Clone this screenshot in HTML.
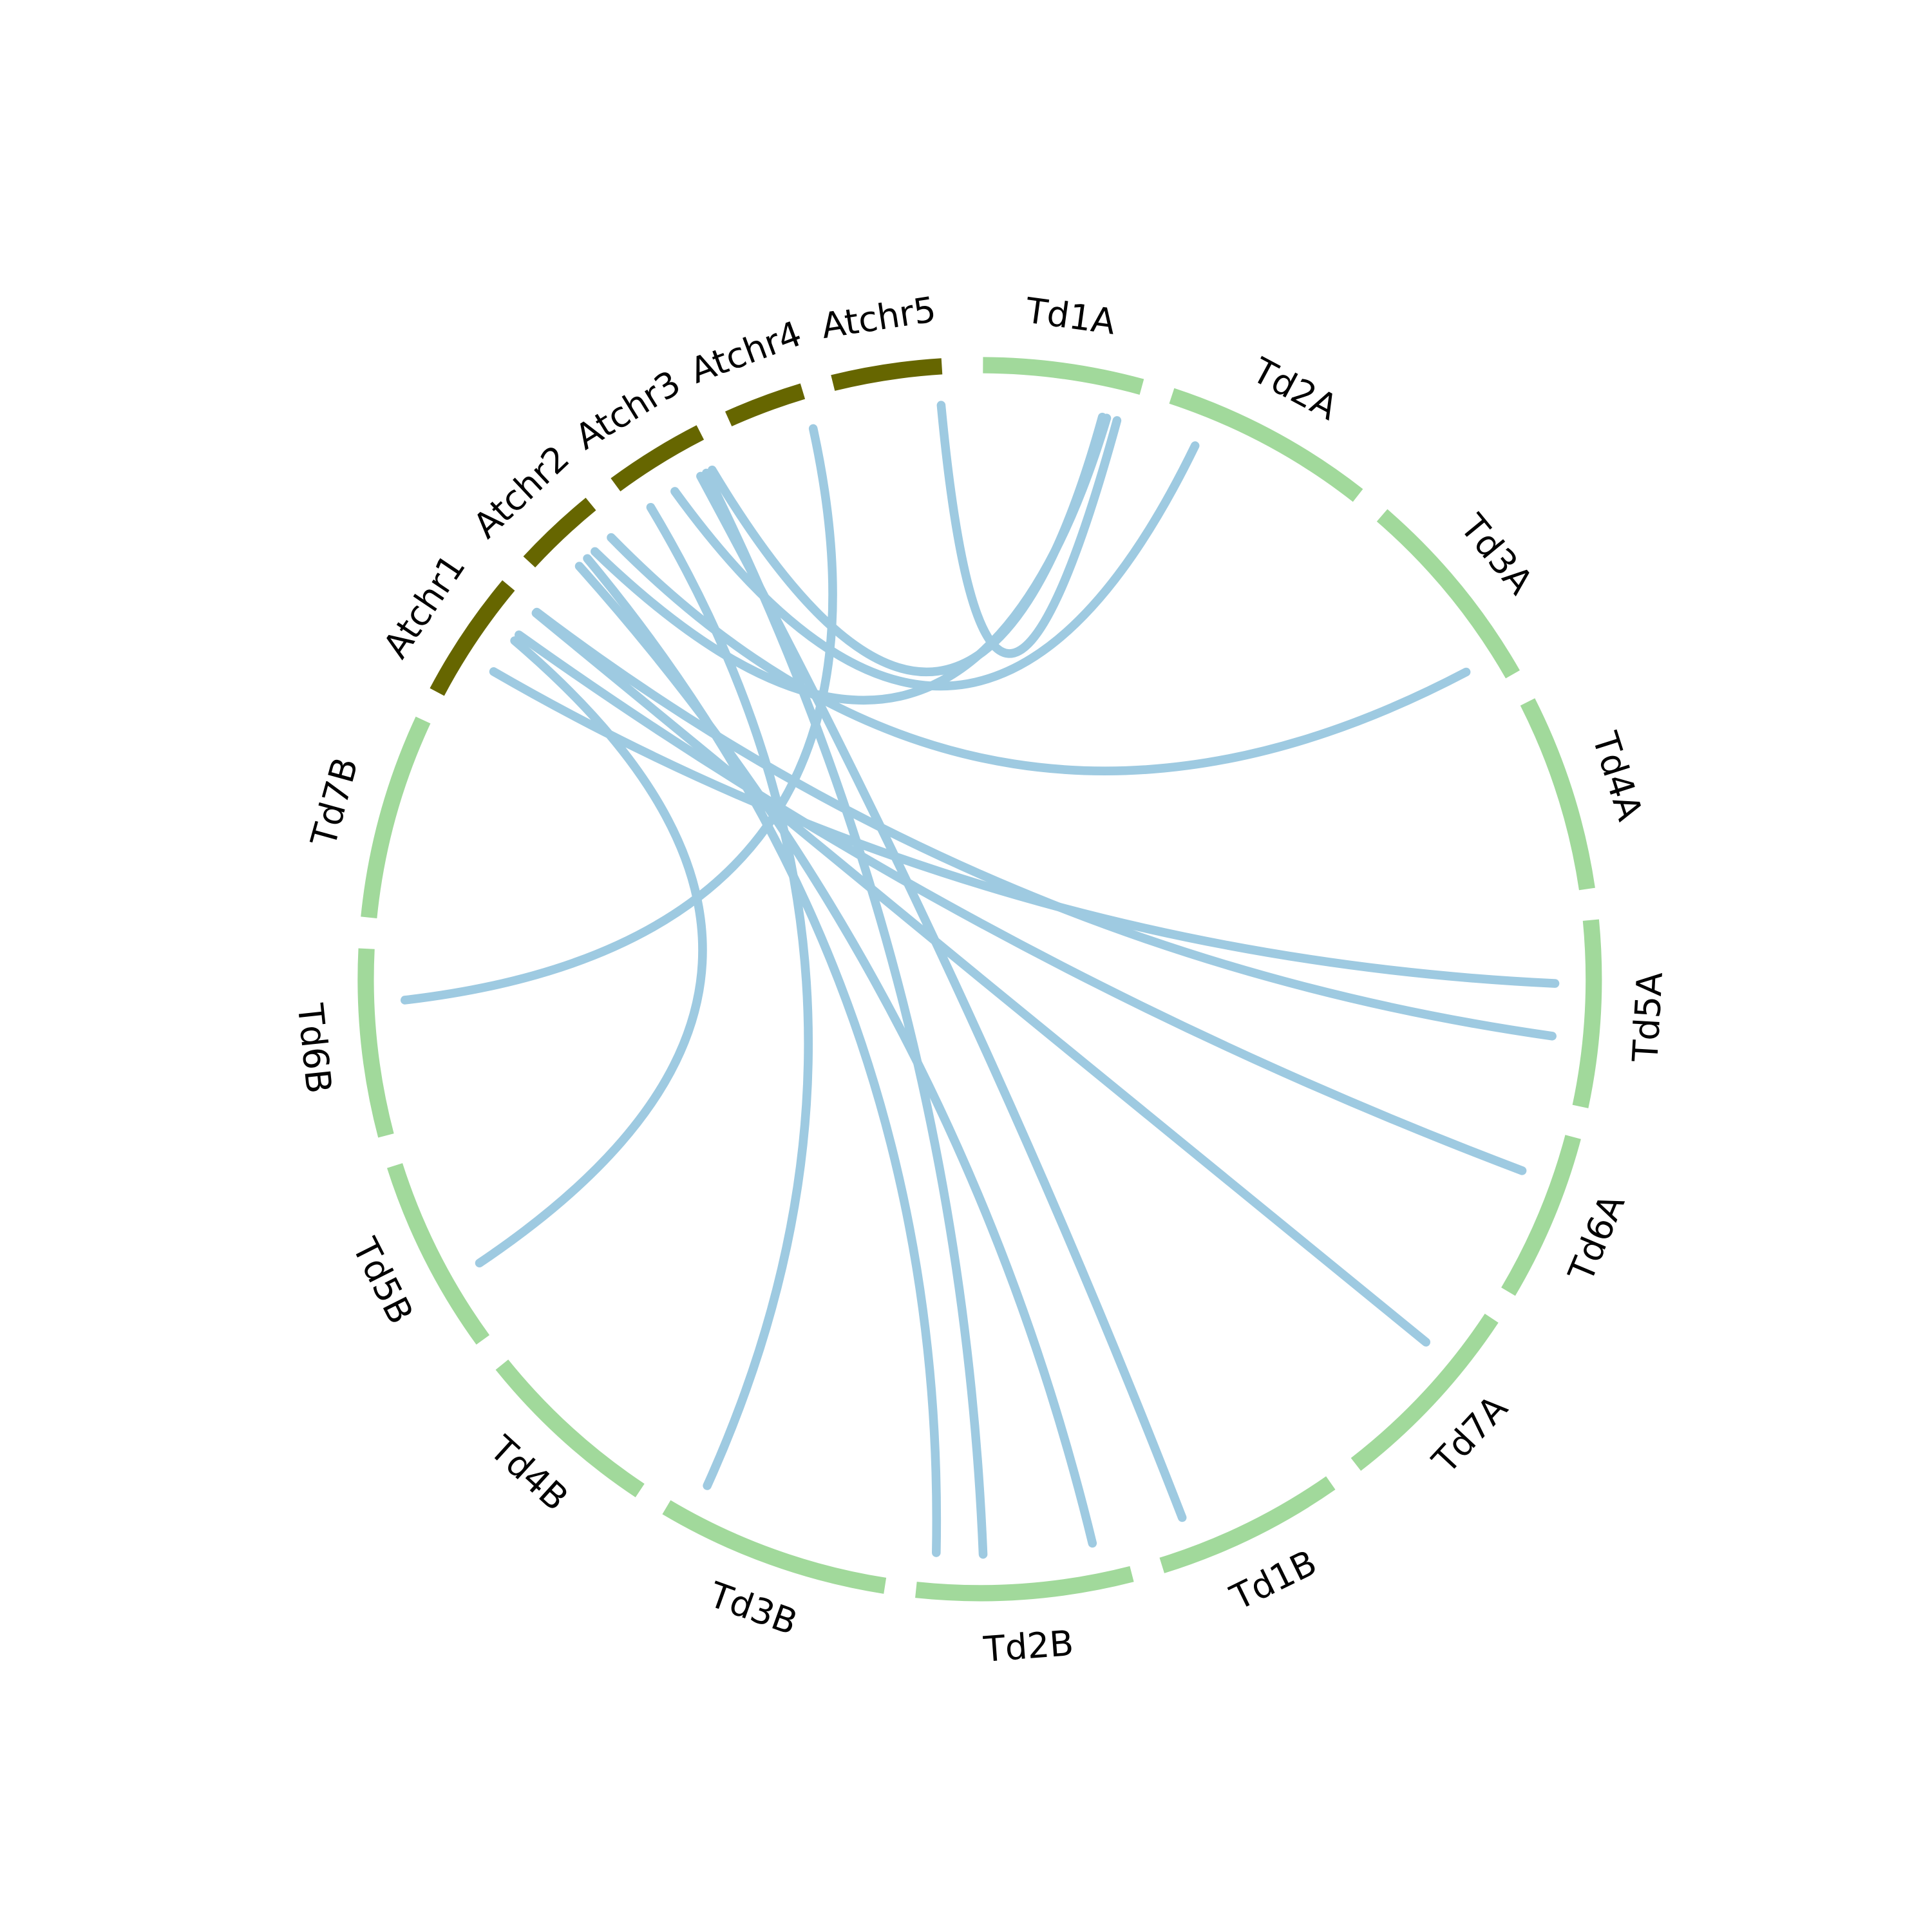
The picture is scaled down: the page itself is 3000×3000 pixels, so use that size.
<!DOCTYPE html>
<html><head><meta charset="utf-8"><style>
html,body{margin:0;padding:0;background:#fff;}
svg{display:block;}
text{font-family:"DejaVu Sans","Liberation Sans",sans-serif;font-size:28px;fill:#000;}
</style></head><body>
<svg id="chart" width="3000" height="3000" viewBox="0 0 1545 1545" xmlns="http://www.w3.org/2000/svg">
<g id="chords"></g>
<g id="ring"></g>
<g id="labels"></g>
</svg>
<script>
// chromosome names and sizes (span in degrees)
const chrNames = ["Td1A","Td2A","Td3A","Td4A","Td5A","Td6A","Td7A","Td1B","Td2B","Td3B","Td4B","Td5B","Td6B","Td7B","Atchr1","Atchr2","Atchr3","Atchr4","Atchr5"];
const chrSizes = [15,19.8,19.3,18.4,17.5,15.7,18.7,17.6,20.3,21.8,17.5,18.3,17.6,19.2,12,7.9,9.3,7.4,10.3];
const chrGroup = ["Td","Td","Td","Td","Td","Td","Td","Td","Td","Td","Td","Td","Td","Td","At","At","At","At","At"];
// links: source chromosome/fraction -> target chromosome/fraction
const linkSrc = ["Atchr5","Atchr3","Atchr2","Atchr3","Atchr2","Atchr4","Atchr3","Atchr1","Atchr1","Atchr1","Atchr1","Atchr1","Atchr2","Atchr3","Atchr3","Atchr2"];
const linkSrcPos = [0.97,0.93,0.66,0.47,0.93,0.99,0.16,0.68,0.74,0.97,0.98,0.37,0.39,0.86,0.79,0.53];
const linkTgt = ["Td1A","Td1A","Td1A","Td2A","Td3A","Td6B","Td3B","Td5B","Td6A","Td7A","Td5A","Td5A","Td2B","Td2B","Td1B","Td2B"];
const linkTgtPos = [0.9,0.8,0.83,0.19,0.87,0.72,0.89,0.35,0.29,0.3,0.64,0.34,0.15,0.69,0.81,0.92];

const NS="http://www.w3.org/2000/svg";
const cx=783.5, cy=783, R=491, Rc=460, Rl=535, gap=2.92, start0=0.3;
const starts=[]; let a=start0;
for(let i=0;i<chrSizes.length;i++){starts.push(a); a+=chrSizes[i]+gap;}
function pt(deg,r){const t=deg*Math.PI/180;return [cx+r*Math.sin(t), cy-r*Math.cos(t)];}
function angOf(name,f){const i=chrNames.indexOf(name);return starts[i]+f*chrSizes[i];}

const ring=document.getElementById('ring');
const labels=document.getElementById('labels');
chrNames.forEach((n,i)=>{
  const a0=starts[i], a1=starts[i]+chrSizes[i];
  const p0=pt(a0,R), p1=pt(a1,R);
  const p=document.createElementNS(NS,'path');
  p.setAttribute('d',`M${p0[0]},${p0[1]} A${R},${R} 0 0 1 ${p1[0]},${p1[1]}`);
  p.setAttribute('fill','none');
  p.setAttribute('stroke',chrGroup[i]==="At"?"#666600":"#a1d99b");
  p.setAttribute('stroke-width','13');
  
  
  ring.appendChild(p);
  const m=(a0+a1)/2, lp=pt(m,Rl);
  let rot=m; if(m>90&&m<270) rot=m-180;
  const t=document.createElementNS(NS,'text');
  t.setAttribute('x',lp[0]); t.setAttribute('y',lp[1]);
  t.setAttribute('text-anchor','middle'); t.setAttribute('dominant-baseline','central');
  t.setAttribute('transform',`rotate(${rot} ${lp[0]} ${lp[1]})`);
  t.textContent=n;
  
  
  labels.appendChild(t);
});
const chords=document.getElementById('chords');
for(let k=0;k<linkSrc.length;k++){
  const s=pt(angOf(linkSrc[k],linkSrcPos[k]),Rc), e=pt(angOf(linkTgt[k],linkTgtPos[k]),Rc);
  const mx=(s[0]+e[0])/2, my=(s[1]+e[1])/2;
  const qx=cx+0.15*(mx-cx), qy=cy+0.15*(my-cy);
  const p=document.createElementNS(NS,'path');
  p.setAttribute('d',`M${s[0]},${s[1]} Q${qx},${qy} ${e[0]},${e[1]}`);
  p.setAttribute('fill','none'); p.setAttribute('stroke','#9ecae1');
  p.setAttribute('stroke-width','7'); p.setAttribute('stroke-linecap','round');
  
  
  chords.appendChild(p);
}
</script>
</body></html>
